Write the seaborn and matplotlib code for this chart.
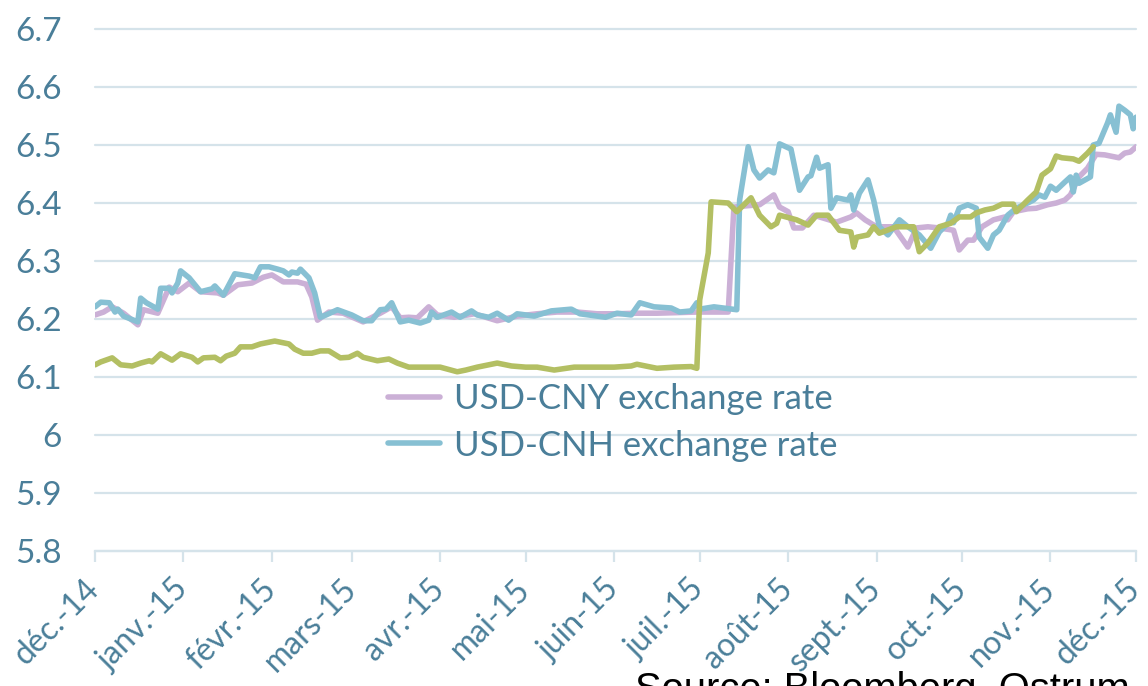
import matplotlib

matplotlib.use("Agg")
import matplotlib.pyplot as plt
import pandas as pd
import seaborn as sns

# USD-CNY (onshore)
CNY_DATES = [
    "2014-12-01", "2014-12-04", "2014-12-07", "2014-12-11", "2014-12-16", "2014-12-18",
    "2014-12-23", "2014-12-27", "2014-12-30", "2015-01-03", "2015-01-07", "2015-01-13",
    "2015-01-15", "2015-01-20", "2015-01-25", "2015-01-29", "2015-02-01", "2015-02-05",
    "2015-02-10", "2015-02-13", "2015-02-15", "2015-02-17", "2015-02-21", "2015-02-26",
    "2015-03-05", "2015-03-11", "2015-03-15", "2015-03-18", "2015-03-21", "2015-03-24",
    "2015-03-28", "2015-03-31", "2015-04-06", "2015-04-13", "2015-04-21", "2015-04-28",
    "2015-05-05", "2015-05-12", "2015-05-19", "2015-05-26", "2015-06-02", "2015-06-09",
    "2015-06-16", "2015-06-23", "2015-06-30", "2015-07-07", "2015-07-11", "2015-07-13",
    "2015-07-17", "2015-07-22", "2015-07-27", "2015-07-29", "2015-08-01", "2015-08-03",
    "2015-08-06", "2015-08-10", "2015-08-18", "2015-08-23", "2015-08-25", "2015-08-28",
    "2015-09-01", "2015-09-07", "2015-09-12", "2015-09-15", "2015-09-19", "2015-09-23",
    "2015-09-28", "2015-09-30", "2015-10-03", "2015-10-05", "2015-10-08", "2015-10-12",
    "2015-10-16", "2015-10-17", "2015-10-19", "2015-10-24", "2015-10-27", "2015-10-31",
    "2015-11-03", "2015-11-06", "2015-11-08", "2015-11-11", "2015-11-14", "2015-11-17",
    "2015-11-20", "2015-11-25", "2015-11-27", "2015-11-29", "2015-12-01",
]
CNY_VALUES = [
    6.207, 6.212, 6.221, 6.210, 6.190, 6.216,
    6.210, 6.255, 6.247, 6.262, 6.247, 6.245,
    6.241, 6.259, 6.262, 6.272, 6.276, 6.264,
    6.264, 6.260, 6.238, 6.198, 6.212, 6.210,
    6.195, 6.210, 6.221, 6.202, 6.203, 6.202,
    6.221, 6.207, 6.203, 6.209, 6.197, 6.205,
    6.209, 6.212, 6.212, 6.209, 6.209, 6.210,
    6.210, 6.211, 6.212, 6.212, 6.212, 6.393,
    6.395, 6.397, 6.414, 6.393, 6.385, 6.357,
    6.357, 6.379, 6.367, 6.376, 6.383, 6.371,
    6.359, 6.359, 6.324, 6.357, 6.359, 6.357,
    6.353, 6.319, 6.336, 6.336, 6.359, 6.371,
    6.376, 6.371, 6.385, 6.390, 6.391, 6.397,
    6.400, 6.405, 6.414, 6.445, 6.460, 6.484,
    6.483, 6.478, 6.486, 6.488, 6.497,
]

# USD-CNH (offshore)
CNH_DATES = [
    "2014-12-01", "2014-12-03", "2014-12-06", "2014-12-08", "2014-12-09", "2014-12-11",
    "2014-12-16", "2014-12-17", "2014-12-19", "2014-12-23", "2014-12-24", "2014-12-27",
    "2014-12-28", "2014-12-30", "2014-12-31", "2015-01-03", "2015-01-07", "2015-01-11",
    "2015-01-12", "2015-01-15", "2015-01-19", "2015-01-24", "2015-01-26", "2015-01-28",
    "2015-01-31", "2015-02-03", "2015-02-05", "2015-02-07", "2015-02-08", "2015-02-10",
    "2015-02-11", "2015-02-14", "2015-02-16", "2015-02-18", "2015-02-20", "2015-02-24",
    "2015-03-01", "2015-03-05", "2015-03-08", "2015-03-11", "2015-03-13", "2015-03-15",
    "2015-03-18", "2015-03-21", "2015-03-25", "2015-03-28", "2015-03-29", "2015-03-31",
    "2015-04-05", "2015-04-08", "2015-04-12", "2015-04-14", "2015-04-18", "2015-04-21",
    "2015-04-25", "2015-04-28", "2015-05-04", "2015-05-10", "2015-05-17", "2015-05-20",
    "2015-05-26", "2015-05-29", "2015-06-02", "2015-06-07", "2015-06-10", "2015-06-15",
    "2015-06-21", "2015-06-24", "2015-06-28", "2015-06-30", "2015-07-01", "2015-07-06",
    "2015-07-14", "2015-07-15", "2015-07-18", "2015-07-20", "2015-07-22", "2015-07-25",
    "2015-07-27", "2015-07-29", "2015-08-02", "2015-08-05", "2015-08-08", "2015-08-09",
    "2015-08-11", "2015-08-12", "2015-08-15", "2015-08-16", "2015-08-18", "2015-08-22",
    "2015-08-23", "2015-08-24", "2015-08-26", "2015-08-29", "2015-08-31", "2015-09-02",
    "2015-09-05", "2015-09-09", "2015-09-12", "2015-09-16", "2015-09-20", "2015-09-23",
    "2015-09-26", "2015-09-27", "2015-09-28", "2015-09-30", "2015-10-03", "2015-10-06",
    "2015-10-07", "2015-10-10", "2015-10-12", "2015-10-14", "2015-10-17", "2015-10-20",
    "2015-10-24", "2015-10-26", "2015-10-28", "2015-10-30", "2015-11-01", "2015-11-03",
    "2015-11-06", "2015-11-08", "2015-11-09", "2015-11-10", "2015-11-11", "2015-11-15",
    "2015-11-16", "2015-11-18", "2015-11-21", "2015-11-22", "2015-11-24", "2015-11-25",
    "2015-11-27", "2015-11-29", "2015-11-30", "2015-12-01",
]
CNH_VALUES = [
    6.221, 6.229, 6.228, 6.212, 6.217, 6.205,
    6.195, 6.236, 6.228, 6.217, 6.253, 6.253,
    6.245, 6.262, 6.283, 6.271, 6.247, 6.252,
    6.257, 6.241, 6.278, 6.274, 6.271, 6.290,
    6.290, 6.286, 6.283, 6.276, 6.281, 6.279,
    6.286, 6.271, 6.245, 6.203, 6.207, 6.216,
    6.207, 6.197, 6.197, 6.216, 6.217, 6.228,
    6.195, 6.198, 6.193, 6.198, 6.212, 6.203,
    6.212, 6.203, 6.214, 6.207, 6.203, 6.210,
    6.198, 6.209, 6.205, 6.214, 6.217, 6.209,
    6.205, 6.203, 6.210, 6.207, 6.228, 6.221,
    6.219, 6.212, 6.214, 6.228, 6.217, 6.221,
    6.216, 6.405, 6.497, 6.457, 6.443, 6.457,
    6.452, 6.502, 6.493, 6.422, 6.445, 6.447,
    6.479, 6.460, 6.466, 6.391, 6.409, 6.405,
    6.414, 6.388, 6.417, 6.440, 6.405, 6.359,
    6.345, 6.371, 6.359, 6.345, 6.322, 6.350,
    6.365, 6.379, 6.366, 6.391, 6.397, 6.391,
    6.341, 6.322, 6.345, 6.353, 6.379, 6.391,
    6.400, 6.405, 6.414, 6.410, 6.429, 6.422,
    6.436, 6.445, 6.419, 6.448, 6.434, 6.445,
    6.500, 6.503, 6.538, 6.552, 6.522, 6.567,
    6.560, 6.552, 6.528, 6.548,
]

# third (unlabelled) series
THIRD_DATES = [
    "2014-12-01", "2014-12-03", "2014-12-07", "2014-12-10", "2014-12-14", "2014-12-17",
    "2014-12-20", "2014-12-21", "2014-12-24", "2014-12-28", "2014-12-31", "2015-01-04",
    "2015-01-06", "2015-01-08", "2015-01-12", "2015-01-14", "2015-01-16", "2015-01-19",
    "2015-01-21", "2015-01-25", "2015-01-28", "2015-02-02", "2015-02-04", "2015-02-07",
    "2015-02-09", "2015-02-12", "2015-02-15", "2015-02-18", "2015-02-21", "2015-02-25",
    "2015-02-28", "2015-03-03", "2015-03-05", "2015-03-10", "2015-03-14", "2015-03-17",
    "2015-03-21", "2015-03-27", "2015-04-01", "2015-04-07", "2015-04-10", "2015-04-14",
    "2015-04-21", "2015-04-26", "2015-05-01", "2015-05-05", "2015-05-11", "2015-05-18",
    "2015-05-26", "2015-06-01", "2015-06-07", "2015-06-09", "2015-06-16", "2015-06-22",
    "2015-06-28", "2015-06-30", "2015-07-01", "2015-07-04", "2015-07-05", "2015-07-11",
    "2015-07-14", "2015-07-19", "2015-07-22", "2015-07-26", "2015-07-28", "2015-07-29",
    "2015-08-04", "2015-08-08", "2015-08-11", "2015-08-15", "2015-08-19", "2015-08-23",
    "2015-08-24", "2015-08-25", "2015-08-29", "2015-08-31", "2015-09-02", "2015-09-08",
    "2015-09-14", "2015-09-16", "2015-09-19", "2015-09-23", "2015-09-27", "2015-09-30",
    "2015-10-04", "2015-10-06", "2015-10-09", "2015-10-12", "2015-10-15", "2015-10-19",
    "2015-10-20", "2015-10-24", "2015-10-27", "2015-10-29", "2015-11-01", "2015-11-03",
    "2015-11-05", "2015-11-09", "2015-11-11", "2015-11-14", "2015-11-16",
]
THIRD_VALUES = [
    6.121, 6.126, 6.133, 6.121, 6.119, 6.124,
    6.128, 6.126, 6.140, 6.129, 6.140, 6.134,
    6.126, 6.133, 6.134, 6.128, 6.136, 6.141,
    6.152, 6.152, 6.157, 6.162, 6.160, 6.157,
    6.148, 6.141, 6.141, 6.145, 6.145, 6.133,
    6.134, 6.141, 6.134, 6.128, 6.131, 6.124,
    6.117, 6.117, 6.117, 6.109, 6.112, 6.117,
    6.124, 6.119, 6.117, 6.117, 6.112, 6.117,
    6.117, 6.117, 6.119, 6.122, 6.115, 6.117,
    6.118, 6.115, 6.233, 6.314, 6.402, 6.400,
    6.385, 6.409, 6.379, 6.359, 6.365, 6.379,
    6.371, 6.362, 6.379, 6.379, 6.353, 6.350,
    6.324, 6.341, 6.345, 6.359, 6.348, 6.359,
    6.359, 6.316, 6.331, 6.359, 6.365, 6.376,
    6.376, 6.383, 6.388, 6.391, 6.398, 6.398,
    6.385, 6.405, 6.419, 6.448, 6.459, 6.481,
    6.478, 6.476, 6.472, 6.486, 6.497,
]

MONTH_TICKS = pd.date_range("2014-12-01", "2015-12-01", freq="MS")
MONTH_LABELS = [
    "déc.-14", "janv.-15", "févr.-15", "mars-15", "avr.-15", "mai-15", "juin-15",
    "juil.-15", "août-15", "sept.-15", "oct.-15", "nov.-15", "déc.-15",
]
Y_TICKS = [5.8, 5.9, 6.0, 6.1, 6.2, 6.3, 6.4, 6.5, 6.6, 6.7]
Y_LABELS = ["5.8", "5.9", "6", "6.1", "6.2", "6.3", "6.4", "6.5", "6.6", "6.7"]

TEXT = "#4A7E99"
GRID = "#D5E3EA"
PURPLE = "#CBB0D6"
BLUE = "#87C0D3"
OLIVE = "#B3BF63"


def frame(dates, values):
    return pd.DataFrame({"date": pd.to_datetime(dates), "rate": values})


sns.set_theme(style="white")
plt.rcParams["font.family"] = ["Lato", "DejaVu Sans"]

fig = plt.figure(figsize=(11.48, 6.86), dpi=100)
ax = fig.add_axes([0.0828, 0.1968, 0.9068, 0.7609])

sns.lineplot(data=frame(CNY_DATES, CNY_VALUES), x="date", y="rate", color=PURPLE,
             linewidth=4.0, label="USD-CNY exchange rate", ax=ax)
sns.lineplot(data=frame(CNH_DATES, CNH_VALUES), x="date", y="rate", color=BLUE,
             linewidth=4.0, label="USD-CNH exchange rate", ax=ax)
sns.lineplot(data=frame(THIRD_DATES, THIRD_VALUES), x="date", y="rate", color=OLIVE,
             linewidth=4.0, ax=ax)

ax.set_xlim(pd.Timestamp("2014-12-01"), pd.Timestamp("2015-12-01"))
ax.set_ylim(5.8, 6.7)
ax.set_yticks(Y_TICKS)
ax.set_yticklabels(Y_LABELS)
ax.set_xticks(MONTH_TICKS)
ax.set_xticklabels(MONTH_LABELS, rotation=45, ha="right", va="center", rotation_mode="anchor")
ax.set_xlabel("")
ax.set_ylabel("")

ax.grid(True, axis="y", color=GRID, linewidth=1.6)
for line in ax.get_ygridlines():
    line.set_clip_on(False)
ax.set_axisbelow(True)
for side in ["top", "right", "left"]:
    ax.spines[side].set_visible(False)
ax.spines["bottom"].set_color(GRID)
ax.spines["bottom"].set_linewidth(1.6)

ax.tick_params(axis="y", length=0, pad=24, labelsize=24, labelcolor=TEXT)
ax.tick_params(axis="x", length=8, width=1.6, color=GRID, direction="out",
               pad=16, labelsize=23, labelcolor=TEXT)
ax.xaxis.set_ticks_position("bottom")

leg = ax.legend(loc="upper left", bbox_to_anchor=(0.281, 0.322), frameon=False,
                fontsize=25, handlelength=1.5, handletextpad=0.4,
                labelspacing=0.42, borderpad=0, borderaxespad=0)
for text in leg.get_texts():
    text.set_color(TEXT)
for handle in leg.get_lines():
    handle.set_linewidth(4)

fig.text(635 / 1148, 1 - 671 / 686, "Source: Bloomberg, Ostrum", family="Liberation Sans",
         fontsize=28.7, color="black", ha="left", va="top")

fig.savefig("out.png", dpi=100)
